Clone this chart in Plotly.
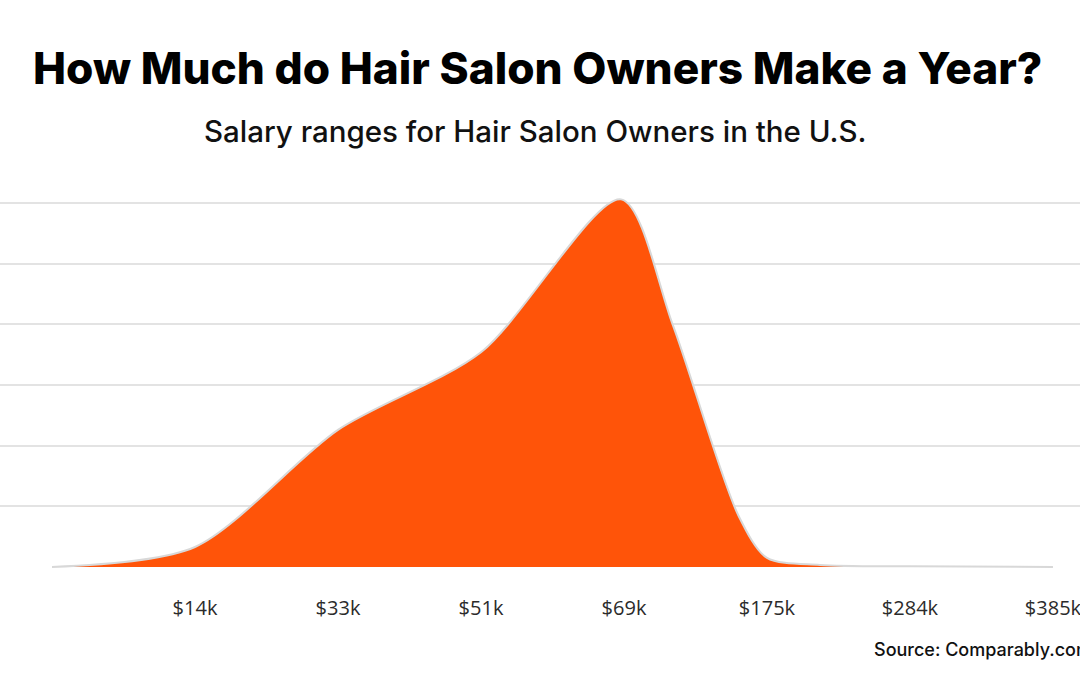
import plotly.graph_objects as go

# Tick positions for the salary bins (the first one has no label on the chart)
bin_index = [0, 1, 2, 3, 4, 5, 6, 7]
tick_labels = ["", "$14k", "$33k", "$51k", "$69k", "$175k", "$284k", "$385k"]

# Curve
curve_x = [0, 1, 2, 3, 3.98, 4.34, 4.8, 5, 5.37, 6, 7]
curve_y = [0, 3.3, 22.6, 35.4, 60.6, 40, 8.5, 1.5, 0.35, 0.12, 0]
grid_values = [10, 20, 30, 40, 50, 60]

fig = go.Figure()
fig.add_scatter(
    x=curve_x, y=curve_y, mode="lines", fill="tozeroy",
    fillcolor="#FF5409",
    line=dict(color="#D8D8D8", width=2, shape="spline", smoothing=0.8),
    hoverinfo="skip",
)

# Axes are set so one bin is 143px and 10 units are about 60.7px
fig.update_xaxes(
    domain=[0, 1], range=[-0.3636, 7.189],
    tickvals=bin_index, ticktext=tick_labels,
    showgrid=False, zeroline=False, showline=False,
    ticks="outside", ticklen=21, tickcolor="rgba(0,0,0,0)",
    ticklabeloverflow="allow",
    tickfont=dict(family="Open Sans", size=20, color="#2b2b2b"),
)
fig.update_yaxes(
    domain=[0.157, 1], range=[-0.33, 93.46],
    tickvals=grid_values, showticklabels=False,
    showgrid=True, gridcolor="#E3E3E3", gridwidth=2,
    zeroline=False, showline=False,
)

fig.update_layout(
    width=1080, height=675,
    margin=dict(l=0, r=0, t=0, b=0, autoexpand=False),
    paper_bgcolor="white", plot_bgcolor="white",
    showlegend=False,
    annotations=[
        dict(text="How Much do Hair Salon Owners Make a Year?",
             xref="paper", yref="paper", x=0.4977, y=1 - 68 / 675,
             xanchor="center", yanchor="middle", showarrow=False,
             font=dict(family="Inter", size=44.2, color="black", weight=800)),
        dict(text="Salary ranges for Hair Salon Owners in the U.S.",
             xref="paper", yref="paper", x=0.4954, y=1 - 131 / 675,
             xanchor="center", yanchor="middle", showarrow=False,
             font=dict(family="Inter", size=29.5, color="#111111", weight=500)),
        dict(text="Source: Comparably.com",
             xref="paper", yref="paper", x=872 / 1080, y=1 - 649 / 675,
             xanchor="left", yanchor="middle", showarrow=False,
             font=dict(family="Inter", size=18, color="#111111", weight=500)),
    ],
)

# Page margin would push the chart 8px in from the window edge
fig.write_html("out.html", config={"displayModeBar": False},
               post_script="document.body.style.margin='0';")
